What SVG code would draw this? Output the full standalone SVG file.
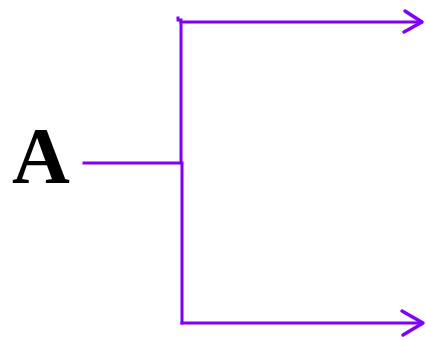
<svg xmlns="http://www.w3.org/2000/svg" width="426" height="340" viewBox="0 0 426 340">
  <style>
    .wire { fill: none; stroke: #8000ff; stroke-width: 3; stroke-linecap: square; stroke-linejoin: miter; }
    .head { fill: none; stroke: #8000ff; stroke-width: 3.5; stroke-linecap: round; stroke-linejoin: round; }
    .label { font-family: "Liberation Serif", "Times New Roman", serif; font-weight: bold; font-size: 80px; fill: #000; }
  </style>
  <rect width="426" height="340" fill="#fff"/>
  <g id="node-A">
    <text class="label" x="12" y="183">A</text>
  </g>
  <g id="connectors">
    <!-- input stub into the branch point -->
    <path class="wire" d="M84,163 H181"/>
    <!-- vertical trunk -->
    <path class="wire" d="M178,18 V20 M181,20 V163 M182,163 V323"/>
    <!-- upper branch -->
    <path class="wire" d="M181,22 H421"/>
    <path class="head" d="M405,11 L422,22 L404,32"/>
    <!-- lower branch -->
    <path class="wire" d="M182,323 H421"/>
    <path class="head" d="M402,311 L423,323 L403,335"/>
  </g>
</svg>
